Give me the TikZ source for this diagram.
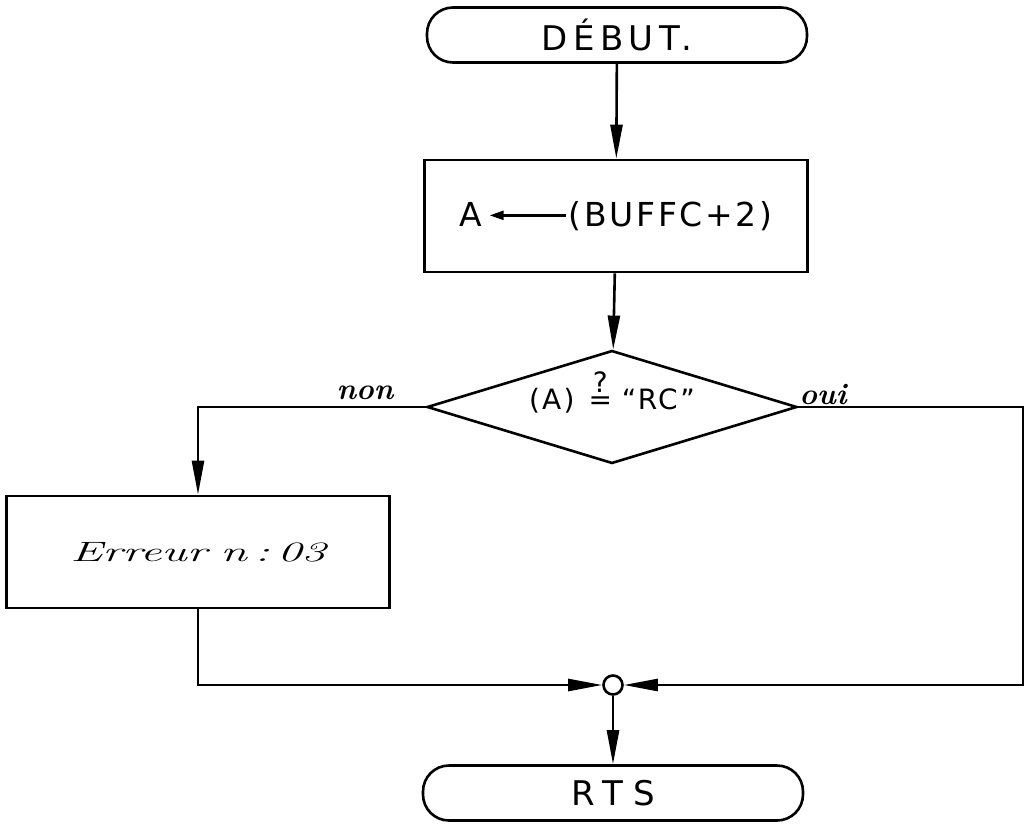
\documentclass[tikz,border=0pt]{standalone}
\usepackage{graphicx}
\usepackage{fontspec}
\newfontfamily\capsfont{DejaVu Sans}[LetterSpace=16]
\newfontfamily\rtsfont{DejaVu Sans}[LetterSpace=30]
\newfontfamily\boxfont{DejaVu Sans}[LetterSpace=8]
\usetikzlibrary{shapes.geometric,arrows.meta}
\tikzset{
  base/.style={line width=2.6pt},
  term/.style={base, draw, rounded corners=26pt, minimum width=380pt, minimum height=55pt, inner sep=0pt,
    font=\capsfont\fontsize{34}{38}\selectfont},
  proc/.style={base, draw, minimum width=383pt, minimum height=112pt, inner sep=0pt},
  dec/.style={base, draw, diamond, aspect=3.27, minimum width=370pt, minimum height=113pt, inner sep=0pt,
    font=\boxfont\fontsize{28}{32}\selectfont},
  junc/.style={base, draw, circle, minimum size=19pt, inner sep=0pt},
  flow/.style={base, -{Triangle[length=34pt,width=12pt]}},
  lbl/.style={font=\itshape\bfseries\fontsize{30}{34}\selectfont, inner sep=0pt}
}
\newcommand{\inarrow}{\tikz[baseline, x=1pt, y=1pt]{\draw[line width=2.4pt, -{Triangle[length=14pt,width=9pt]}] (76,11) -- (0,11);}}
\begin{document}
\begin{tikzpicture}[x=1pt,y=-1pt]
\useasboundingbox (0,0) rectangle (1026,827);
\node[term] (debut) at (617,35) {DÉBUT.};
\node[proc, font=\boxfont\fontsize{33}{36}\selectfont] (boxa) at (616,216) {A\hspace{6pt}\inarrow\hspace{2pt}(BUFFC+2)};
\node[dec] (test) at (612,407) {\raisebox{-2pt}[0pt][0pt]{(A)\hspace{14pt}\shortstack{?\\[1pt]=}\hspace{10pt}“RC”}};
\node[proc, font=\itshape\fontsize{28}{32}\selectfont] (err) at (198,552) {\scalebox{1.72}[1]{Erreur\hspace{8pt}n\,:\,03}};
\node[junc] (j) at (613,685) {};
\node[term, font=\rtsfont\fontsize{34}{38}\selectfont] (rts) at (613,793) {RTS};
\coordinate (jr) at (1023,685);
\node[lbl] (non) at (365,393) {non};
\node[lbl] (oui) at (823,395) {oui};
\draw[flow] (debut) -- (boxa);
\draw[flow] (boxa) -- (test);
\draw[flow] (test.west) -| (err.north);
\draw[flow] (test.east) -| (jr) -- (j.east);
\draw[flow] (err.south) |- (j.west);
\draw[flow] (j) -- (rts);
\end{tikzpicture}
\end{document}
